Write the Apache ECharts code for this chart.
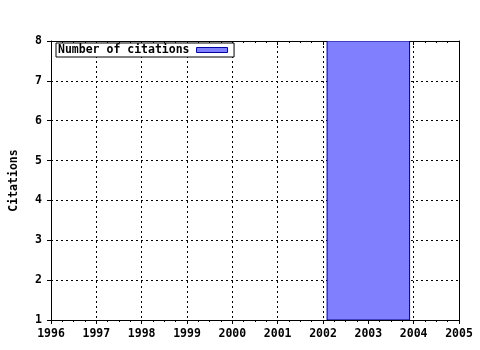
<!DOCTYPE html>
<html><head><meta charset="utf-8">
<script src="https://cdn.jsdelivr.net/npm/echarts@6/dist/echarts.min.js"></script>
<style>html,body{margin:0;padding:0;background:#fff}#c{width:480px;height:350px}</style>
</head><body><div id="c"></div>
<script>
var years = [2003];
var citations = [8];
var xTicks = [1996, 1997, 1998, 1999, 2000, 2001, 2002, 2003, 2004, 2005];
var yTicks = [1, 2, 3, 4, 5, 6, 7, 8];
var seriesName = 'Number of citations';
var halfWidth = 0.91;

var font = 'DejaVu Sans Mono';
var chart = echarts.init(document.getElementById('c'), null, {renderer: 'canvas'});
var data = years.map(function (y, i) { return [y, citations[i]]; });
chart.setOption({
  animation: false,
  backgroundColor: '#fff',
  grid: {left: 51, right: 21, top: 41, bottom: 30, containLabel: false},
  legend: {
    show: true, left: 56, top: 43, orient: 'horizontal', align: 'right',
    data: [{name: seriesName, icon: 'rect', itemStyle: {color: '#8080ff', borderColor: '#0000a0', borderWidth: 1}}],
    itemWidth: 31, itemHeight: 5, itemGap: 0,
    padding: [1, 6, 1, 2], borderColor: '#000', borderWidth: 1, backgroundColor: '#fff',
    textStyle: {fontFamily: font, fontWeight: 'bold', fontSize: 11.5, color: '#000', padding: [0, 2, 0, 0]}
  },
  xAxis: [{
    type: 'value', min: 1996, max: 2005, interval: 1, position: 'bottom',
    axisLine: {show: true, onZero: false, lineStyle: {color: '#000', width: 1}},
    axisTick: {show: true, inside: false, length: 4, lineStyle: {color: '#000'}},
    minorTick: {show: true, splitNumber: 4, length: 2, lineStyle: {color: '#000'}},
    axisLabel: {show: true, margin: 8, fontFamily: font, fontWeight: 'bold', fontSize: 11.5, color: '#000',
      formatter: function (v) { return xTicks.indexOf(v) >= 0 ? String(v) : ''; }},
    splitLine: {show: true, lineStyle: {color: '#000', type: [2, 3], width: 1}}
  }, {
    type: 'value', min: 1996, max: 2005, interval: 1, position: 'top',
    axisLine: {show: true, onZero: false, lineStyle: {color: '#000', width: 1}},
    axisTick: {show: true, inside: true, length: 4, lineStyle: {color: '#000'}},
    minorTick: {show: true, splitNumber: 4, length: 2, lineStyle: {color: '#000'}},
    axisLabel: {show: false}, splitLine: {show: false}
  }],
  yAxis: [{
    type: 'value', min: 1, max: 8, interval: 1, position: 'left',
    name: 'Citations', nameLocation: 'middle', nameGap: 31, nameRotate: 90,
    nameTextStyle: {fontFamily: font, fontWeight: 'bold', fontSize: 11.5, color: '#000'},
    axisLine: {show: true, onZero: false, lineStyle: {color: '#000', width: 1}},
    axisTick: {show: true, inside: false, length: 4, lineStyle: {color: '#000'}},
    axisLabel: {show: true, margin: 9, fontFamily: font, fontWeight: 'bold', fontSize: 11.5, color: '#000',
      formatter: function (v) { return yTicks.indexOf(v) >= 0 ? String(v) : ''; }},
    splitLine: {show: true, lineStyle: {color: '#000', type: [2, 3], width: 1}}
  }, {
    type: 'value', min: 1, max: 8, interval: 1, position: 'right',
    axisLine: {show: true, onZero: false, lineStyle: {color: '#000', width: 1}},
    axisTick: {show: false}, axisLabel: {show: false}, splitLine: {show: false}
  }],
  series: [{
    name: seriesName, type: 'custom', xAxisIndex: 0, yAxisIndex: 0, clip: true, z: 1,
    data: data,
    renderItem: function (params, api) {
      var x = api.value(0), y = api.value(1);
      var p1 = api.coord([x - halfWidth, y]);
      var p2 = api.coord([x + halfWidth, 1]);
      return {
        type: 'rect',
        shape: {x: p1[0], y: p1[1], width: p2[0] - p1[0], height: p2[1] - p1[1]},
        style: {fill: '#8080ff', stroke: '#000080', lineWidth: 1}
      };
    }
  }]
});
</script></body></html>
